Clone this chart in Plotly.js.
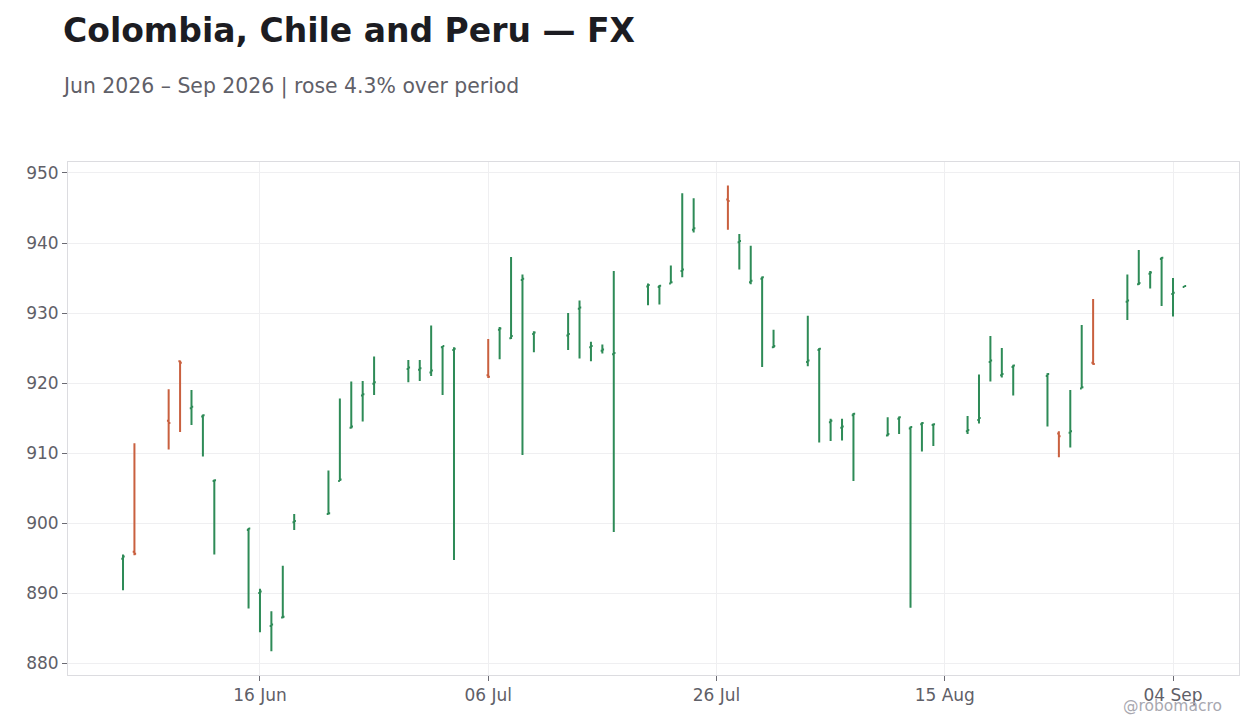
<!DOCTYPE html>
<html>
<head>
<meta charset="utf-8">
<script src="https://cdn.plot.ly/plotly-3.0.1.min.js"></script>
<style>
html,body{margin:0;padding:0;background:#ffffff;}
#chart{width:1260px;height:728px;}
</style>
</head>
<body>
<div id="chart"></div>
<script>
const dates = [
 "2026-06-04","2026-06-05","2026-06-08","2026-06-09","2026-06-10","2026-06-11","2026-06-12",
 "2026-06-15","2026-06-16","2026-06-17","2026-06-18","2026-06-19",
 "2026-06-22","2026-06-23","2026-06-24","2026-06-25","2026-06-26",
 "2026-06-29","2026-06-30","2026-07-01","2026-07-02","2026-07-03",
 "2026-07-06","2026-07-07","2026-07-08","2026-07-09","2026-07-10",
 "2026-07-13","2026-07-14","2026-07-15","2026-07-16","2026-07-17",
 "2026-07-20","2026-07-21","2026-07-22","2026-07-23","2026-07-24",
 "2026-07-27","2026-07-28","2026-07-29","2026-07-30","2026-07-31",
 "2026-08-03","2026-08-04","2026-08-05","2026-08-06","2026-08-07",
 "2026-08-10","2026-08-11","2026-08-12","2026-08-13","2026-08-14",
 "2026-08-17","2026-08-18","2026-08-19","2026-08-20","2026-08-21",
 "2026-08-24","2026-08-25","2026-08-26","2026-08-27","2026-08-28",
 "2026-08-31","2026-09-01","2026-09-02","2026-09-03","2026-09-04","2026-09-05"
];
const openVals = [
 894.9,895.9,914.6,923.1,916.4,915.2,906.0,
 899.0,890.0,885.3,886.5,900.1,
 901.3,906.0,913.6,918.2,919.9,
 922.0,921.9,921.5,925.1,924.7,
 921.1,927.6,926.4,934.7,927.0,
 926.8,930.6,925.1,924.6,924.1,
 933.8,933.7,934.2,936.0,941.9,
 946.2,940.1,934.4,934.9,925.1,
 923.0,924.7,914.4,913.6,915.4,
 912.5,914.9,913.5,914.1,914.0,
 913.1,914.7,923.0,921.1,922.3,
 921.0,912.8,912.9,919.2,922.9,
 931.6,934.1,935.6,937.7,932.7,933.7
];
const highVals = [
 895.5,911.4,919.1,923.2,919.0,915.5,906.2,
 899.3,890.6,887.4,893.9,901.3,
 907.5,917.8,920.2,920.3,923.8,
 923.3,923.3,928.2,925.3,925.1,
 926.3,928.0,938.0,935.5,927.4,
 930.0,931.8,925.9,925.5,936.0,
 934.2,934.0,936.8,947.1,946.4,
 948.2,941.3,939.6,935.2,927.6,
 929.6,925.0,914.9,914.9,915.7,
 915.1,915.2,913.8,914.4,914.2,
 915.3,921.2,926.7,925.0,922.6,
 921.4,913.1,919.0,928.3,932.0,
 935.5,939.0,936.0,938.0,935.0,933.9
];
const lowVals = [
 890.4,895.4,910.5,913.0,914.0,909.5,895.5,
 887.8,884.4,881.7,886.4,899.0,
 901.2,906.0,913.5,914.5,918.3,
 920.1,920.3,921.0,918.3,894.7,
 920.7,923.4,926.3,909.7,924.4,
 924.7,923.5,923.1,924.2,898.7,
 931.1,931.2,934.2,935.1,941.5,
 941.9,936.2,934.1,922.3,925.0,
 922.4,911.5,911.7,911.8,906.0,
 912.4,912.7,887.9,910.2,911.0,
 912.7,914.2,920.2,920.8,918.2,
 913.8,909.4,910.8,919.2,922.6,
 929.0,934.0,933.5,931.0,929.5,933.7
];
const closeVals = [
 895.2,895.6,914.3,922.9,916.6,915.4,906.1,
 899.2,890.2,885.5,886.6,900.3,
 901.4,906.2,913.8,918.4,920.1,
 922.2,922.1,921.8,925.3,924.9,
 920.9,927.8,926.7,934.9,927.2,
 927.0,930.8,925.3,924.8,924.3,
 934.0,933.9,934.4,936.2,942.1,
 946.0,940.3,934.6,935.1,925.3,
 923.2,924.9,914.6,913.8,915.6,
 912.7,915.1,913.7,914.3,914.1,
 913.3,915.0,923.2,921.3,922.5,
 921.3,912.4,913.1,919.4,922.7,
 931.8,934.3,935.8,937.9,932.9,933.85
];
const xTickStart = "2026-06-16";
const titleText = "Colombia, Chile and Peru — FX";
const subtitleText = "Jun 2026 – Sep 2026 | rose 4.3% over period";
const creditText = "@robomacro";

const trace = {
  type: "ohlc",
  x: dates,
  open: openVals,
  high: highVals,
  low: lowVals,
  close: closeVals,
  tickwidth: 0.15,
  increasing: {line: {color: "#2e8b57", width: 2}},
  decreasing: {line: {color: "#c9603f", width: 2}},
  hoverinfo: "x+y",
  showlegend: false
};

const axisFont = {family: "DejaVu Sans, sans-serif", size: 17, color: "#5f6068"};
const plotH = 728 - 162 - 53;
const plotW = 1260 - 68 - 21;

const layout = {
  width: 1260,
  height: 728,
  paper_bgcolor: "#ffffff",
  plot_bgcolor: "#ffffff",
  margin: {l: 68, r: 21, t: 162, b: 53},
  font: {family: "DejaVu Sans, sans-serif", color: "#5f6068"},
  title: {
    text: "<b>" + titleText + "</b>",
    font: {family: "DejaVu Sans, sans-serif", size: 33, color: "#1c1c22"},
    x: 63/1260, xanchor: "left", xref: "container",
    y: 1 - 30/728, yanchor: "middle", yref: "container"
  },
  annotations: [
    {text: subtitleText, xref: "paper", yref: "paper",
     x: (60 - 68)/plotW, y: (728 - 86 - 53)/plotH,
     xanchor: "left", yanchor: "middle", showarrow: false,
     font: {family: "DejaVu Sans, sans-serif", size: 20.4, color: "#5f6068"}},
    {text: creditText, xref: "paper", yref: "paper",
     x: (1224 - 68)/plotW, y: (728 - 706 - 53)/plotH,
     xanchor: "right", yanchor: "middle", showarrow: false,
     font: {family: "DejaVu Sans, sans-serif", size: 15.5, color: "#a8a8b0"}}
  ],
  xaxis: {
    type: "date",
    range: ["2026-05-30 04:19", "2026-09-09 18:46"],
    tick0: xTickStart,
    dtick: 20 * 24 * 3600 * 1000,
    tickformat: "%d %b",
    showgrid: true,
    gridcolor: "#efeff1",
    gridwidth: 1,
    zeroline: false,
    showline: true,
    linecolor: "#dcdce0",
    linewidth: 1,
    mirror: true,
    ticks: "outside",
    ticklen: 5,
    tickcolor: "#6a6a72",
    tickfont: axisFont,
    rangeslider: {visible: false}
  },
  yaxis: {
    range: [878.29, 951.57],
    tick0: 880,
    dtick: 10,
    showgrid: true,
    gridcolor: "#efeff1",
    gridwidth: 1,
    zeroline: false,
    showline: true,
    linecolor: "#dcdce0",
    linewidth: 1,
    mirror: true,
    ticks: "outside",
    ticklen: 5,
    tickcolor: "#6a6a72",
    tickfont: axisFont
  }
};

Plotly.newPlot("chart", [trace], layout, {displayModeBar: false, responsive: false});
</script>
</body>
</html>
